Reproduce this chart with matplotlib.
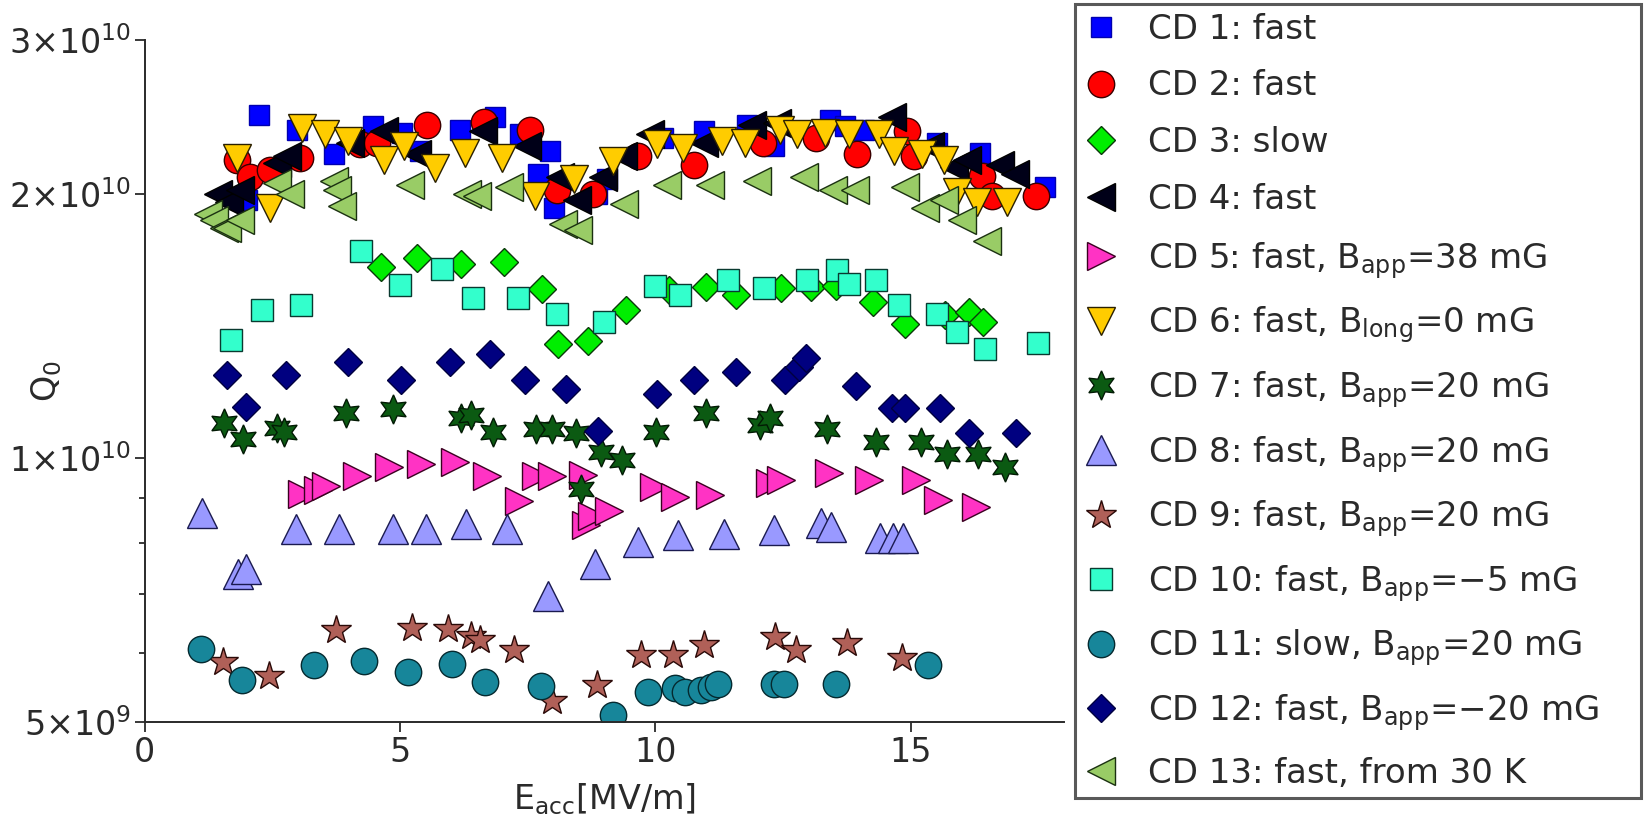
"""Q0 versus accelerating field for the cooldown series."""

import matplotlib
matplotlib.use('Agg')
from matplotlib import pyplot
import numpy

# CD 1: fast
x_cd1 = [2.00, 2.23, 2.98, 3.70, 4.48, 5.04, 5.39, 6.18, 6.86, 7.35, 7.71, 7.94,
         8.01, 8.86, 9.05, 10.16, 10.95, 11.80, 12.32, 13.43, 13.72, 14.08,
         15.52, 16.37, 17.64]
q_cd1 = [1.97, 2.46, 2.37, 2.22, 2.39, 2.35, 2.24, 2.37, 2.45, 2.34, 2.11, 2.24,
         1.93, 2.00, 2.08, 2.32, 2.36, 2.40, 2.27, 2.43, 2.39, 2.37, 2.29, 2.23,
         2.04]
# CD 2: fast
x_cd2 = [1.80, 2.06, 2.46, 3.04, 4.22, 4.55, 5.53, 6.64, 7.55, 8.07, 8.79, 9.67,
         10.75, 12.12, 13.14, 13.95, 14.93, 15.06, 16.40, 16.60, 17.45]
q_cd2 = [2.19, 2.09, 2.13, 2.20, 2.28, 2.29, 2.40, 2.42, 2.37, 2.02, 2.00, 2.21,
         2.16, 2.29, 2.32, 2.22, 2.36, 2.21, 2.10, 1.99, 1.99]
# CD 3: slow
x_cd3 = [4.62, 5.34, 6.19, 7.03, 7.78, 8.10, 8.69, 9.43, 10.27, 10.99, 11.59,
         12.47, 13.05, 13.55, 14.26, 14.90, 15.68, 16.15, 16.42]
q_cd3 = [1.65, 1.69, 1.665, 1.675, 1.56, 1.35, 1.36, 1.475, 1.555, 1.567, 1.535,
         1.562, 1.567, 1.57, 1.507, 1.424, 1.455, 1.468, 1.43]
# CD 4: fast
x_cd4 = [1.44, 1.65, 1.87, 2.59, 2.78, 4.02, 4.68, 5.33, 6.63, 7.49, 8.14, 8.47,
         8.98, 9.37, 9.90, 10.95, 11.90, 12.38, 14.64, 15.39, 15.85, 16.11,
         16.76, 17.05]
q_cd4 = [2.00, 1.96, 2.02, 2.17, 2.21, 2.29, 2.36, 2.22, 2.36, 2.27, 2.09, 1.97,
         2.09, 2.21, 2.34, 2.29, 2.40, 2.41, 2.45, 2.27, 2.15, 2.19, 2.16, 2.11]
# CD 5: fast, B_app = 38 mG
x_cd5 = [3.08, 3.40, 3.55, 4.16, 4.79, 5.42, 6.08, 6.71, 7.34, 7.66, 7.97, 8.59,
         8.64, 8.76, 9.10, 9.98, 10.39, 11.07, 12.25, 12.46, 13.41, 14.19, 15.10,
         15.54, 16.29]
q_cd5 = [0.910, 0.920, 0.930, 0.955, 0.976, 0.984, 0.989, 0.955, 0.894, 0.955,
         0.955, 0.956, 0.839, 0.858, 0.870, 0.928, 0.903, 0.908, 0.936, 0.944,
         0.961, 0.944, 0.944, 0.896, 0.880]
# CD 6: fast, B_long = 0 mG
x_cd6 = [1.80, 2.46, 3.08, 3.53, 3.99, 4.68, 5.07, 5.69, 6.28, 7.00, 7.65, 8.40,
         9.18, 10.03, 10.55, 11.31, 11.76, 12.45, 12.78, 13.33, 13.79, 14.38,
         14.67, 15.23, 15.65, 15.91, 16.30, 16.89]
q_cd6 = [2.20, 1.93, 2.38, 2.34, 2.30, 2.19, 2.27, 2.14, 2.23, 2.20, 1.99, 2.08,
         2.18, 2.28, 2.26, 2.30, 2.29, 2.37, 2.34, 2.35, 2.34, 2.34, 2.24, 2.22,
         2.19, 2.01, 1.96, 1.96]
# CD 7: fast, B_app = 20 mG
x_cd7 = [1.56, 1.92, 2.59, 2.73, 3.94, 4.86, 6.19, 6.40, 6.82, 7.66, 7.97, 8.45,
         8.55, 8.93, 9.34, 10.01, 11.00, 12.05, 12.25, 13.37, 14.32, 15.20,
         15.71, 16.32, 16.86]
q_cd7 = [1.098, 1.051, 1.083, 1.070, 1.127, 1.137, 1.112, 1.120, 1.070, 1.080,
         1.080, 1.067, 0.923, 1.017, 0.995, 1.072, 1.125, 1.090, 1.110, 1.080,
         1.044, 1.044, 1.012, 1.012, 0.978]
# CD 8: fast, B_app = 20 mG
x_cd8 = [1.12, 1.82, 1.99, 2.96, 3.81, 4.86, 5.52, 6.29, 7.10, 7.90, 8.83, 9.66,
         10.45, 11.34, 12.32, 13.24, 13.44, 14.40, 14.66, 14.86]
q_cd8 = [0.867, 0.737, 0.747, 0.830, 0.830, 0.830, 0.830, 0.841, 0.830, 0.697,
         0.758, 0.803, 0.817, 0.820, 0.828, 0.844, 0.835, 0.810, 0.810, 0.810]
# CD 9: fast, B_app = 20 mG
x_cd9 = [1.54, 2.43, 3.74, 5.24, 5.94, 6.40, 6.57, 7.24, 7.97, 8.86, 9.73, 10.35,
         10.95, 12.35, 12.76, 13.75, 14.83]
q_cd9 = [0.585, 0.564, 0.636, 0.640, 0.639, 0.627, 0.620, 0.605, 0.529, 0.551,
         0.596, 0.596, 0.612, 0.625, 0.604, 0.615, 0.591]
# CD 10: fast, B_app = -5 mG
x_cd10 = [1.70, 2.29, 3.06, 4.24, 5.00, 5.83, 6.43, 7.31, 8.08, 9.00, 10.00,
          10.48, 11.42, 12.13, 12.98, 13.56, 13.79, 14.33, 14.77, 15.51, 15.91,
          16.45, 17.50]
q_cd10 = [1.363, 1.475, 1.494, 1.723, 1.574, 1.643, 1.524, 1.524, 1.462, 1.430,
          1.573, 1.535, 1.596, 1.562, 1.596, 1.637, 1.580, 1.596, 1.495, 1.462,
          1.393, 1.333, 1.352]
# CD 11: slow, B_app = 20 mG
x_cd11 = [1.10, 1.91, 3.32, 4.30, 5.16, 6.01, 6.66, 7.76, 9.17, 9.85, 10.39,
          10.59, 10.90, 11.10, 11.23, 12.32, 12.52, 13.54, 15.34]
q_cd11 = [0.606, 0.558, 0.581, 0.587, 0.571, 0.583, 0.555, 0.550, 0.509, 0.541,
          0.547, 0.541, 0.544, 0.548, 0.553, 0.553, 0.553, 0.552, 0.581]
# CD 12: fast, B_app = -20 mG
x_cd12 = [1.61, 1.98, 2.76, 3.99, 5.03, 5.98, 6.76, 7.45, 8.25, 8.88, 10.04,
          10.75, 11.59, 12.54, 12.82, 12.95, 13.94, 14.64, 14.90, 15.57, 16.15,
          17.07]
q_cd12 = [1.243, 1.145, 1.243, 1.288, 1.227, 1.288, 1.316, 1.227, 1.200, 1.075,
          1.185, 1.227, 1.254, 1.227, 1.270, 1.300, 1.210, 1.140, 1.140, 1.140,
          1.067, 1.067]
# CD 13: fast, from 30 K
x_cd13 = [1.25, 1.35, 1.55, 1.61, 1.87, 2.59, 2.85, 3.70, 3.76, 3.86, 5.20,
          6.31, 6.51, 7.13, 8.20, 8.49, 9.38, 10.23, 11.08, 11.99, 12.91, 13.49,
          13.92, 14.90, 15.29, 15.65, 16.01, 16.50]
q_cd13 = [1.90, 1.87, 1.83, 1.83, 1.87, 2.06, 2.00, 2.07, 2.02, 1.94, 2.05, 2.00,
          1.99, 2.04, 1.85, 1.82, 1.95, 2.05, 2.05, 2.07, 2.09, 2.02, 2.02, 2.04,
          1.93, 1.97, 1.87, 1.77]

labels = ['CD 1: fast',
          'CD 2: fast',
          'CD 3: slow',
          'CD 4: fast',
          r'CD 5: fast, B$_{\mathrm{app}}$=38 mG',
          r'CD 6: fast, B$_{\mathrm{long}}$=0 mG',
          r'CD 7: fast, B$_{\mathrm{app}}$=20 mG',
          r'CD 8: fast, B$_{\mathrm{app}}$=20 mG',
          r'CD 9: fast, B$_{\mathrm{app}}$=20 mG',
          'CD 10: fast, B$_{\\mathrm{app}}$=\u22125 mG',
          r'CD 11: slow, B$_{\mathrm{app}}$=20 mG',
          'CD 12: fast, B$_{\\mathrm{app}}$=\u221220 mG',
          'CD 13: fast, from 30 K']
series = [(x_cd1, q_cd1), (x_cd2, q_cd2), (x_cd3, q_cd3), (x_cd4, q_cd4),
          (x_cd5, q_cd5), (x_cd6, q_cd6), (x_cd7, q_cd7), (x_cd8, q_cd8),
          (x_cd9, q_cd9), (x_cd10, q_cd10), (x_cd11, q_cd11),
          (x_cd12, q_cd12), (x_cd13, q_cd13)]

# marker, size (pt), face colour, edge colour
styles = [('s', 15, '#0000ff', '#0000b0'),
          ('o', 19, '#ff0000', '#3a0000'),
          ('D', 14, '#00ee00', '#0a3a0a'),
          ('<', 20, '#000018', '#000000'),
          ('>', 20, '#ff33c4', '#3a0020'),
          ('v', 20, '#ffcc00', '#2a2000'),
          ((6, 1, 0), 21, '#0b5a12', '#021a04'),
          ('^', 21, '#9999ff', '#1a1a50'),
          ('*', 22, '#b06058', '#2a0a08'),
          ('s', 16, '#33ffcc', '#0a3a30'),
          ('o', 19, '#17869a', '#052a30'),
          ('D', 14, '#000080', '#000040'),
          ('<', 20, '#99cc66', '#1a3010')]

textcolor = '#2a2a2a'
pyplot.rcParams['font.family'] = ['DejaVu Sans']
pyplot.rcParams['mathtext.fontset'] = 'dejavusans'

fig = pyplot.figure(figsize=(16.44, 8.30), dpi=100)
ax = fig.add_axes([0.088, 0.130, 0.559, 0.822])

handles = []
for (x, q), (marker, size, face, edge) in zip(series, styles):
    line, = ax.plot(x, numpy.array(q) * 1e10, linestyle='none', marker=marker,
                    markersize=size, markerfacecolor=face,
                    markeredgecolor=edge, markeredgewidth=1.0)
    handles.append(line)

ax.set_yscale('log')
ax.set_xlim(0.0, 18.0)
ax.set_ylim(5e9, 3e10)
ax.set_xticks([0, 5, 10, 15])
ax.set_yticks([5e9, 1e10, 2e10, 3e10])
ax.set_yticklabels([r'$5{\times}10^{9}$', r'$1{\times}10^{10}$',
                    r'$2{\times}10^{10}$', r'$3{\times}10^{10}$'])
ax.set_yticks([6e9, 7e9, 8e9, 9e9], minor=True)
ax.set_yticklabels([], minor=True)
ax.tick_params(which='major', direction='out', length=7, width=1.3,
               labelsize=24, colors=textcolor, pad=3)
ax.tick_params(which='minor', direction='out', length=4.5, width=1.3,
               colors=textcolor)
for side in ('top', 'right'):
    ax.spines[side].set_visible(False)
for side in ('left', 'bottom'):
    ax.spines[side].set_linewidth(1.4)
    ax.spines[side].set_color(textcolor)

ax.set_xlabel(r'E$_{\mathrm{acc}}$[MV/m]', fontsize=24, color=textcolor,
              labelpad=9)
ax.set_ylabel(r'Q$_0$', fontsize=24, color=textcolor)
ax.yaxis.set_label_coords(-0.088, 0.5)

leg = fig.legend(handles, labels, loc='upper left',
                 bbox_to_anchor=(0.654, 0.005, 0.344, 0.99), mode='expand',
                 fontsize=24.5, frameon=True, fancybox=False, handlelength=1.0,
                 handletextpad=0.9, labelspacing=0.70, borderpad=0.25,
                 borderaxespad=0.0, labelcolor=textcolor)
leg.get_frame().set_edgecolor('#303030')
leg.get_frame().set_linewidth(2.2)

fig.savefig('out.png', dpi=100)
